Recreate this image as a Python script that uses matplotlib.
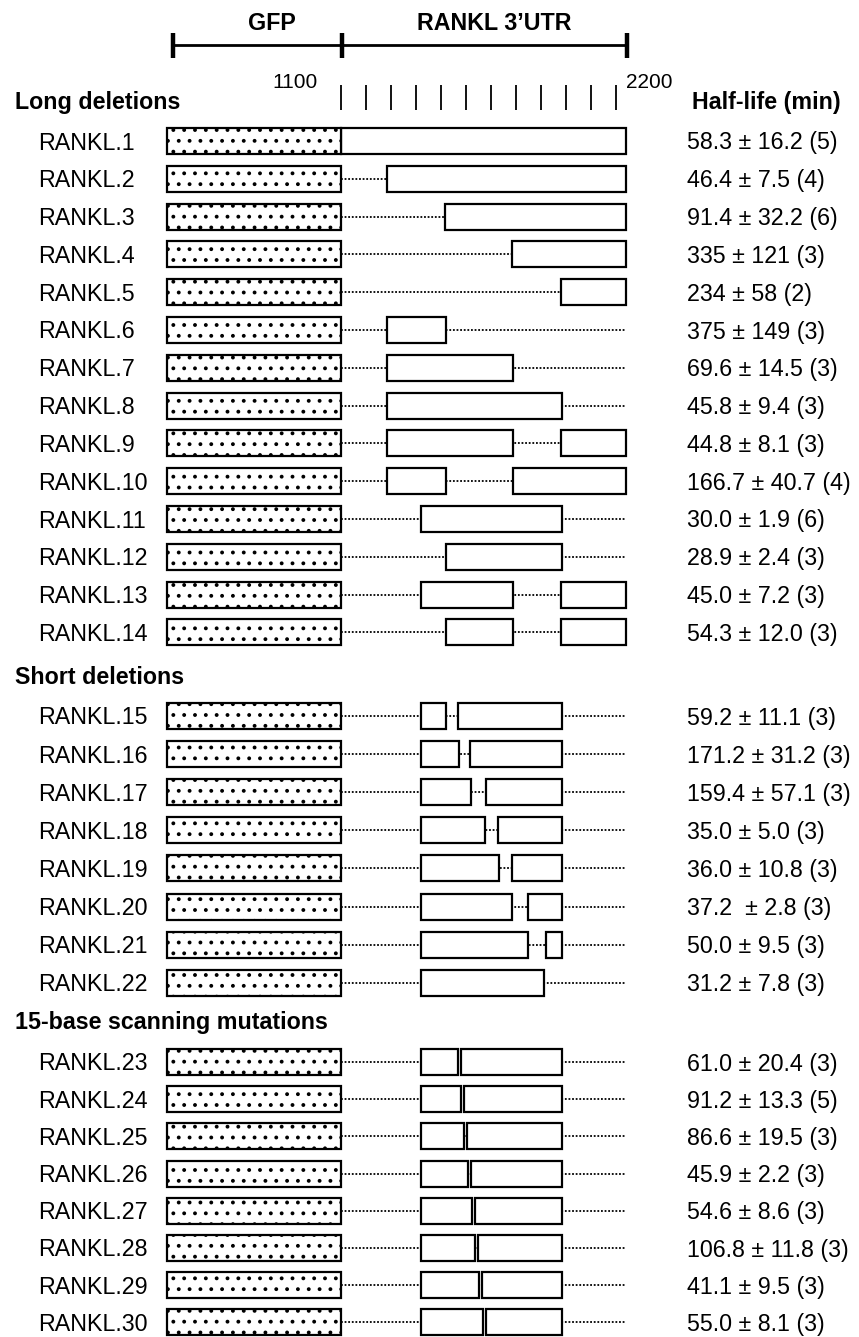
import matplotlib
matplotlib.use('Agg')
import matplotlib.pyplot as plt
from matplotlib.patches import Rectangle
import numpy as np

plt.rcParams['font.family'] = ['Liberation Sans', 'DejaVu Sans']

# constructs: retained 3'UTR pieces (nt, UTR spans 1100-2240)
long_names = ['RANKL.%d' % i for i in range(1, 15)]
long_halflife = ['58.3 ± 16.2 (5)', '46.4 ± 7.5 (4)', '91.4 ± 32.2 (6)', '335 ± 121 (3)',
                 '234 ± 58 (2)', '375 ± 149 (3)', '69.6 ± 14.5 (3)', '45.8 ± 9.4 (3)',
                 '44.8 ± 8.1 (3)', '166.7 ± 40.7 (4)', '30.0 ± 1.9 (6)', '28.9 ± 2.4 (3)',
                 '45.0 ± 7.2 (3)', '54.3 ± 12.0 (3)']
long_kept = [[(1100, 2240)], [(1282, 2240)], [(1516, 2240)], [(1784, 2240)],
             [(1980, 2240)], [(1284, 1520)], [(1284, 1786)], [(1284, 1982)],
             [(1284, 1786), (1980, 2240)], [(1284, 1520), (1786, 2240)],
             [(1420, 1984)], [(1520, 1984)],
             [(1420, 1788), (1980, 2240)], [(1520, 1786), (1980, 2240)]]

short_names = ['RANKL.%d' % i for i in range(15, 23)]
short_halflife = ['59.2 ± 11.1 (3)', '171.2 ± 31.2 (3)', '159.4 ± 57.1 (3)', '35.0 ± 5.0 (3)',
                  '36.0 ± 10.8 (3)', '37.2  ± 2.8 (3)', '50.0 ± 9.5 (3)', '31.2 ± 7.8 (3)']
short_kept = [[(1420, 1520), (1568, 1982)], [(1420, 1572), (1616, 1982)],
              [(1420, 1620), (1680, 1982)], [(1420, 1676), (1728, 1982)],
              [(1420, 1732), (1784, 1982)], [(1420, 1784), (1848, 1982)],
              [(1420, 1848), (1920, 1982)], [(1420, 1912)]]

scan_names = ['RANKL.%d' % i for i in range(23, 31)]
scan_halflife = ['61.0 ± 20.4 (3)', '91.2 ± 13.3 (5)', '86.6 ± 19.5 (3)', '45.9 ± 2.2 (3)',
                 '54.6 ± 8.6 (3)', '106.8 ± 11.8 (3)', '41.1 ± 9.5 (3)', '55.0 ± 8.1 (3)']
scan_kept = [[(1420, 1568), (1580, 1982)], [(1420, 1580), (1592, 1982)],
             [(1420, 1592), (1604, 1982)], [(1420, 1608), (1620, 1982)],
             [(1420, 1624), (1636, 1982)], [(1420, 1636), (1648, 1982)],
             [(1420, 1652), (1664, 1982)], [(1420, 1668), (1680, 1982)]]

# title, names, half-lives, pieces, first row y, row step
groups = [('Long deletions', long_names, long_halflife, long_kept, 141, 37.8),
          ('Short deletions', short_names, short_halflife, short_kept, 716, 38.1),
          ('15-base scanning mutations', scan_names, scan_halflife, scan_kept, 1062, 37.2)]

gfp_start, utr_start, utr_end = 405, 1100, 2240
ticks = np.arange(1100, 2201, 100)

DPI = 130  # hatch tile follows dpi, so sizes below are given as at 100 dpi


def pt(v):
    return v * 100 / DPI


def X(p):
    # reference pixel column -> nucleotide axis
    return 1100 + (p - 341) * 4


plt.rcParams['hatch.linewidth'] = pt(1.2)

fig = plt.figure(figsize=(859 / DPI, 1337 / DPI), dpi=DPI)
ax = fig.add_axes([0, 0, 1, 1])
ax.set_xlim(X(0), X(859))
ax.set_ylim(1337, 0)
ax.axis('off')

fs = pt(16.7)
# top scale bar
ax.plot([428, 2244], [45, 45], color='k', lw=pt(2))
ax.vlines([428, 1102, 2244], 33, 58, color='k', lw=pt(3.2))
ax.text(X(272), 21 + 8.5, 'GFP', ha='center', va='baseline', fontsize=fs, fontweight='bold')
ax.text(X(494), 21 + 8.5, 'RANKL 3\u2019UTR', ha='center', va='baseline', fontsize=fs,
        fontweight='bold')
ax.vlines(ticks, 85, 110, color='k', lw=pt(1.3))
ax.text(X(318), 80 + 8, '1100', ha='right', va='baseline', fontsize=pt(15))
ax.text(X(626), 80 + 8, '2200', ha='left', va='baseline', fontsize=pt(15))
ax.text(X(692), 100 + 8.5, 'Half-life (min)', ha='left', va='baseline', fontsize=fs,
        fontweight='bold')

h = 26
for title, names, hl, kept, y0, step in groups:
    ax.text(X(15), y0 - 41 + 8.5, title, ha='left', va='baseline', fontsize=fs,
            fontweight='bold')
    for i, (name, life, pieces) in enumerate(zip(names, hl, kept)):
        y = y0 + i * step
        ax.text(X(38), y + 8.5, name, ha='left', va='baseline', fontsize=fs)
        ax.text(X(687), y + 8.5, life, ha='left', va='baseline', fontsize=fs)
        ax.plot([utr_start, 2236], [y, y], color='k', lw=pt(1.3), ls=(0, (1, 1)), zorder=1)
        ax.add_patch(Rectangle((gfp_start, y - h / 2), utr_start - gfp_start, h,
                               facecolor='white', edgecolor='k', lw=pt(1.6), hatch='..',
                               zorder=3))
        for a, b in pieces:
            ax.add_patch(Rectangle((a, y - h / 2), b - a, h, facecolor='white',
                                   edgecolor='k', lw=pt(1.6), zorder=2))

fig.savefig('out.png', dpi=DPI)
